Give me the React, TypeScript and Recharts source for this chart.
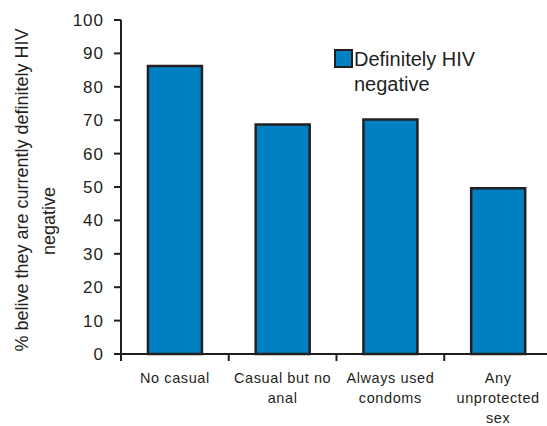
import { BarChart, Bar, XAxis, YAxis } from 'recharts'

const categories = ['No casual', 'Casual but no anal', 'Always used condoms', 'Any unprotected sex']
const categoryLines = [['No casual'], ['Casual but no', 'anal'], ['Always used', 'condoms'], ['Any', 'unprotected', 'sex']]
const hivNegative = [86.2, 68.7, 70.2, 49.6]
const yTicks = [0, 10, 20, 30, 40, 50, 60, 70, 80, 90, 100]
const seriesName = 'Definitely HIV negative'
const yTitle = ['% belive they are currently definitely HIV', 'negative']

const data = categories.map((c, i) => ({ name: c, lines: categoryLines[i], value: hivNegative[i] }))

const FONT = '"Liberation Sans", Arial, sans-serif'
const INK = '#231f20'
const BLUE = '#0080c3'
const BAND = 107.75

function CategoryTick(props: any) {
  const { x, y, index } = props
  const lines = categoryLines[index] || []
  return (
    <g>
      <line x1={x - BAND / 2} y1={y - 8} x2={x - BAND / 2} y2={y - 1} stroke={INK} strokeWidth={2} />
      {lines.map((l, i) => (
        <text
          key={i}
          x={x}
          y={y + 21 + i * 20}
          textAnchor="middle"
          fontSize={14.5}
          fontFamily={FONT}
          letterSpacing={0.6}
          fill={INK}
        >
          {l}
        </text>
      ))}
    </g>
  )
}

function YTitle() {
  return (
    <g fontFamily={FONT} fontSize={18} fill={INK}>
      <text transform="translate(28,190) rotate(-90)" textAnchor="middle">
        {yTitle[0]}
      </text>
      <text transform="translate(55,221) rotate(-90)" textAnchor="middle">
        {yTitle[1]}
      </text>
    </g>
  )
}

export default function App() {
  return (
    <div style={{ position: 'absolute', left: 0, top: 0, width: 547, height: 426, overflow: 'hidden', background: '#fff' }}>
      <BarChart
        width={560}
        height={426}
        data={data}
        margin={{ top: 20, right: 8, bottom: 0, left: 0 }}
        barCategoryGap="25%"
      >
        <XAxis
          dataKey="name"
          height={72}
          axisLine={{ stroke: INK, strokeWidth: 2 }}
          tickLine={false}
          tick={<CategoryTick />}
          interval={0}
        />
        <YAxis
          width={121}
          domain={[0, 100]}
          ticks={yTicks}
          interval={0}
          axisLine={{ stroke: INK, strokeWidth: 2 }}
          tickLine={{ stroke: INK, strokeWidth: 2 }}
          tickSize={7}
          tickMargin={10}
          tick={{ fill: INK, fontSize: 17, fontFamily: FONT, letterSpacing: 1 }}
          label={{ content: () => <YTitle /> }}
        />
        <Bar dataKey="value" name={seriesName} fill={BLUE} stroke={INK} strokeWidth={2.5} isAnimationActive={false} />
      </BarChart>
      <div
        style={{
          position: 'absolute',
          left: 334,
          top: 47,
          fontFamily: FONT,
          fontSize: 20,
          color: INK,
          lineHeight: '25px',
        }}
      >
        <div
          style={{
            position: 'absolute',
            left: 0,
            top: 2,
            width: 15,
            height: 15,
            background: BLUE,
            border: `2px solid ${INK}`,
          }}
        />
        <div style={{ paddingLeft: 20, width: 150 }}>{seriesName}</div>
      </div>
    </div>
  )
}
